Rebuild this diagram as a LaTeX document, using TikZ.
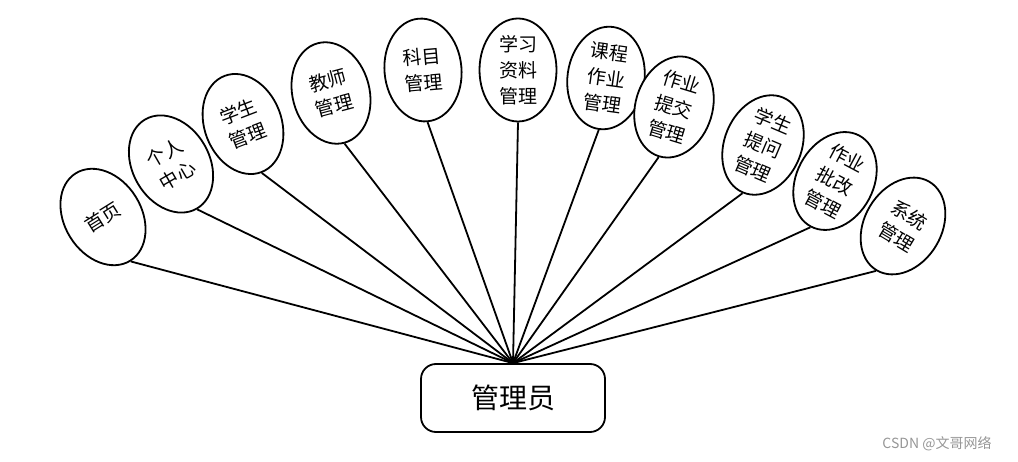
\documentclass[tikz,border=0pt]{standalone}
\usepackage{fontspec}
\usepackage{tikz}
\usetikzlibrary{shapes.geometric}
\newfontfamily\cjk{Noto Sans CJK SC}
\definecolor{markgray}{RGB}{150,150,150}

\begin{document}
\begin{tikzpicture}[
    x=1pt, y=-1pt,
    role/.style={rectangle, rounded corners=15pt, draw=black, fill=white, line width=1.8pt, minimum width=184pt, minimum height=68pt, font=\cjk\fontsize{28}{30}\selectfont},
    func/.style={ellipse, draw=black, fill=white, line width=1.8pt, minimum width=77pt, minimum height=103pt, inner sep=0pt, align=center, font=\cjk\fontsize{19}{26}\selectfont, rotate=#1},
    link/.style={line width=1.8pt, draw=black}
]
\useasboundingbox (0,0) rectangle (1018,462);

% Role
\node[role] (admin) at (513,398) {管理员};

% Function modules
\node[func=32] (home) at (103,217) {首页};
\node[func=30] (center) at (171,164) {个人\\中心};
\node[func=21] (student) at (243,124) {学生\\管理};
\node[func=15] (teacher) at (331,93) {教师\\管理};
\node[func=5] (subject) at (423,70) {科目\\管理};
\node[func=0] (material) at (518,70) {学习\\资料\\管理};
\node[func=-8] (homework) at (606,78) {课程\\作业\\管理};
\node[func=-17] (submit) at (674,107) {作业\\提交\\管理};
\node[func=-23] (question) at (763,145) {学生\\提问\\管理};
\node[func=-28] (grading) at (835,181) {作业\\批改\\管理};
\node[func=-31] (system) at (903,226) {系统\\管理};

% Links to role
\draw[link] (home.south) -- (admin.north);
\draw[link] (center.south) -- (admin.north);
\draw[link] (student.south) -- (admin.north);
\draw[link] (teacher.south) -- (admin.north);
\draw[link] (subject.south) -- (admin.north);
\draw[link] (material.south) -- (admin.north);
\draw[link] (homework.south) -- (admin.north);
\draw[link] (submit.south) -- (admin.north);
\draw[link] (question.south) -- (admin.north);
\draw[link] (grading.south) -- (admin.north);
\draw[link] (system.south) -- (admin.north);

% Watermark
\node[text=markgray, font=\cjk\fontsize{14}{16}\selectfont] (mark) at (937,444) {CSDN @文哥网络};

\end{tikzpicture}
\end{document}
